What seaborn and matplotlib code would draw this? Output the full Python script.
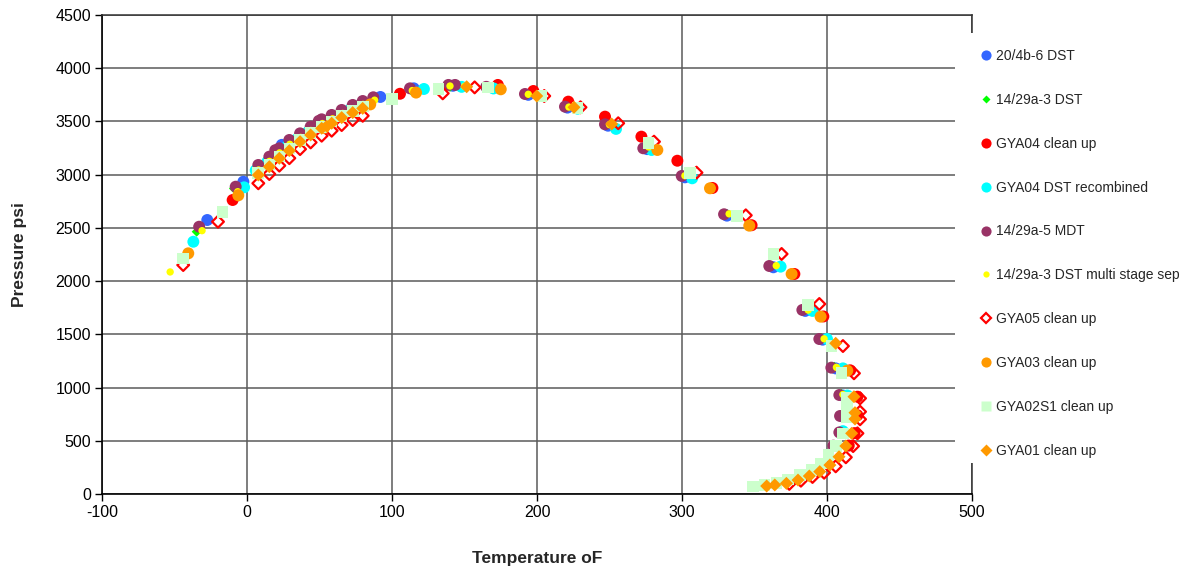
import matplotlib
matplotlib.use("Agg")
import matplotlib.pyplot as plt
from matplotlib.lines import Line2D
from matplotlib.patches import Rectangle
import seaborn as sns
import pandas as pd

# ---------------- data ----------------
labels = ["20/4b-6 DST", "14/29a-3 DST", "GYA04 clean up", "GYA04 DST recombined",
          "14/29a-5 MDT", "14/29a-3 DST multi stage sep", "GYA05 clean up",
          "GYA03 clean up", "GYA02S1 clean up", "GYA01 clean up"]

t_2004b6 = [-27.4, -2.5, 24, 92, 115, 142, 194, 221, 249, 276, 302, 331, 363, 385, 397, 406, 411, 411, 410]
p_2004b6 = [2574, 2934, 3280, 3730, 3811, 3835, 3750, 3630, 3460, 3240, 2975, 2615, 2130, 1720, 1450, 1180, 925, 730, 575]

t_1429a3 = [-34.7, -9, 6, 14, 21, 28, 35, 43, 50, 57, 64, 72, 79, 86, 113, 140, 193, 220, 248, 275, 301, 331, 362, 385, 396, 405, 410, 410, 409]
p_1429a3 = [2464, 2870, 3060, 3140, 3215, 3295, 3360, 3425, 3490, 3535, 3585, 3630, 3670, 3705, 3795, 3825, 3755, 3635, 3470, 3250, 2990, 2630, 2145, 1735, 1465, 1195, 940, 745, 590]

t_gya04cu = [-9.9, 105.5, 173, 197.5, 221.6, 246.9, 272, 296.8, 321, 348, 377.5, 397.5, 416, 421, 421, 419, 415]
p_gya04cu = [2762, 3760, 3843, 3786, 3686, 3545, 3357, 3131, 2875, 2525, 2067, 1668, 1162, 914, 740, 572, 455]

t_gya04rc = [-37, -2, 6, 14, 21, 28, 35, 42, 50, 57, 64, 71, 78, 122, 148, 170, 228, 254.5, 279, 307, 368, 390, 400, 411, 414, 413, 411]
p_gya04rc = [2370, 2881, 3040, 3120, 3195, 3270, 3340, 3400, 3470, 3515, 3560, 3610, 3650, 3805, 3825, 3810, 3620, 3430, 3232, 2966, 2136, 1720, 1456, 1180, 925, 745, 590]

t_1429a5 = [-33, -7.8, 7.8, 15.4, 19.5, 22.3, 29.2, 36.6, 43.9, 49.5, 51.5, 58.4, 65.3, 72.9, 79.8, 87.1, 112.4, 138.9, 143.5, 165, 191.7, 219.3, 246.9, 273.3, 299.8, 329, 360.2, 383, 394.7, 403, 408.5, 409, 408.5, 404.4]
p_1429a5 = [2511, 2887, 3091, 3169, 3230, 3248, 3326, 3388, 3451, 3505, 3520, 3561, 3608, 3655, 3692, 3727, 3811, 3843, 3843, 3825, 3758, 3639, 3473, 3248, 2988, 2628, 2142, 1729, 1456, 1187, 930, 733, 579, 454]

t_multi = [-53, -31, -6.4, 8, 15.5, 22.5, 29.5, 37, 44, 52, 59, 66, 73, 80, 88, 114, 140, 150, 194, 222, 250, 277, 302, 332.5, 365, 387, 398, 406.5, 411]
p_multi = [2086, 2474, 2840, 3044, 3125, 3205, 3285, 3350, 3415, 3480, 3525, 3575, 3620, 3660, 3700, 3790, 3833, 3830, 3755, 3635, 3470, 3260, 2990, 2632, 2145, 1728, 1458, 1190, 935]

t_gya05 = [-44, -20, 7.8, 15.4, 22.3, 29.2, 36.6, 43.9, 51.5, 58.4, 65.3, 72.9, 79.8, 135, 157, 205, 230, 256, 280.7, 310, 344, 368.7, 394.7, 411, 418.6, 422.8, 422.8, 422.8, 421, 418, 413, 406, 398, 390, 382, 374]
p_gya05 = [2151, 2558, 2919, 3006, 3085, 3155, 3240, 3303, 3366, 3413, 3466, 3513, 3553, 3764, 3820, 3739, 3633, 3483, 3310, 3019, 2618, 2255, 1785, 1390, 1134, 899, 773, 702, 570, 450, 345, 260, 200, 160, 125, 95]

t_gya03 = [-40.5, -6, 53, 85, 116.6, 175, 283, 319.3, 346.4, 375.6, 395.6, 414]
p_gya03 = [2261, 2806, 3440, 3660, 3771, 3802, 3232, 2872, 2521, 2067, 1666, 1159]

t_gya02 = [-44, -16.8, 7.8, 15.4, 22.3, 29.2, 36.6, 43.9, 51.5, 58.4, 65.3, 72.9, 79.8, 99.8, 132, 166.4, 203, 228, 277, 305.5, 338, 363, 387, 403, 410, 414, 414, 414, 411, 406, 401, 396, 389.4, 381.4, 373.3, 365.3, 357, 349]
p_gya02 = [2214, 2652, 3015, 3095, 3170, 3245, 3325, 3390, 3450, 3500, 3550, 3600, 3640, 3711, 3805, 3820, 3739, 3625, 3295, 3013, 2612, 2255, 1776, 1390, 1134, 899, 800, 720, 570, 451, 366, 288, 225, 178, 138, 106, 85, 69]

t_gya01 = [7.8, 15.4, 22.3, 29.2, 36.6, 43.9, 51.5, 55, 58.4, 65.3, 72.9, 79.8, 151.5, 199.8, 225.5, 251.5, 406, 418.6, 419.3, 419.3, 417, 413, 408.3, 402, 395, 387.8, 380, 372, 364, 358.4]
p_gya01 = [2997, 3075, 3154, 3226, 3310, 3373, 3436, 3455, 3483, 3536, 3583, 3623, 3826, 3739, 3633, 3476, 1416, 914, 764, 705, 570, 451, 350, 272, 210, 169, 131, 100, 85, 75]

x_ticks = [-100, 0, 100, 200, 300, 400, 500]
y_ticks = [0, 500, 1000, 1500, 2000, 2500, 3000, 3500, 4000, 4500]

temps = [t_2004b6, t_1429a3, t_gya04cu, t_gya04rc, t_1429a5, t_multi, t_gya05, t_gya03, t_gya02, t_gya01]
press = [p_2004b6, p_1429a3, p_gya04cu, p_gya04rc, p_1429a5, p_multi, p_gya05, p_gya03, p_gya02, p_gya01]

# ---------------- styles ----------------
styles = [
    dict(marker="o", color="#3366FF", s=74),
    dict(marker="D", color="#00FF00", s=26),
    dict(marker="o", color="#FF0000", s=74),
    dict(marker="o", color="#00FFFF", s=74),
    dict(marker="o", color="#993366", s=74),
    dict(marker="o", color="#FFFF00", s=28),
    dict(marker="D", color="#FF0000", s=36, open=True),
    dict(marker="o", color="#FF9900", s=74),
    dict(marker="s", color="#CCFFCC", s=70),
    dict(marker="D", color="#FF9900", s=44),
]

sns.set_theme(style="white")
plt.rcParams["font.family"] = ["Liberation Sans", "DejaVu Sans"]
plt.rcParams["axes.unicode_minus"] = False

fig = plt.figure(figsize=(11.85, 5.73), dpi=100)
ax = fig.add_axes([102 / 1185, 1 - 494 / 573, 870 / 1185, 479 / 573])

for lab, tx, py, st in zip(labels, temps, press, styles):
    df = pd.DataFrame({"T": tx, "P": py})
    if st.get("open"):
        sns.scatterplot(data=df, x="T", y="P", ax=ax, marker=st["marker"], s=st["s"],
                        facecolors="none", edgecolor=st["color"], linewidth=1.6, zorder=3)
    else:
        sns.scatterplot(data=df, x="T", y="P", ax=ax, marker=st["marker"], s=st["s"],
                        color=st["color"], edgecolor="none", linewidth=0, zorder=3)

ax.set_xlim(-100, 500)
ax.set_ylim(0, 4500)
ax.set_xticks(x_ticks)
ax.set_yticks(y_ticks)
ax.grid(True, color="#5a5a5a", linewidth=1.1)
ax.set_axisbelow(True)
for side in ["left", "bottom"]:
    ax.spines[side].set_color("black")
    ax.spines[side].set_linewidth(1.2)
for side in ["top", "right"]:
    ax.spines[side].set_color("#333333")
    ax.spines[side].set_linewidth(1.1)
ax.tick_params(axis="both", direction="out", length=5, width=1, color="black",
               labelsize=11.5, labelcolor="black", pad=3, left=True, bottom=True)
ax.set_xlabel("Temperature oF", fontsize=12.5, fontweight="bold", labelpad=22)
ax.set_ylabel("Pressure psi", fontsize=12.5, fontweight="bold", labelpad=20)

# white legend area covering the right edge of the plot
fig.patches.append(Rectangle((955 / 1185, 1 - 463 / 573), 230 / 1185, 430 / 573,
                             transform=fig.transFigure, facecolor="white",
                             edgecolor="none", zorder=1))

handles = []
for st in styles:
    ms = (st["s"] ** 0.5) * 0.85
    if st.get("open"):
        h = Line2D([], [], linestyle="none", marker=st["marker"], markersize=ms,
                   markerfacecolor="none", markeredgecolor=st["color"], markeredgewidth=1.6)
    else:
        h = Line2D([], [], linestyle="none", marker=st["marker"], markersize=ms,
                   markerfacecolor=st["color"], markeredgecolor="none")
    handles.append(h)

fig.legend(handles, labels, loc="upper left", bbox_to_anchor=(981 / 1185, 1 - 49 / 573),
           bbox_transform=fig.transFigure, frameon=False, fontsize=10,
           borderpad=0, borderaxespad=0, handlelength=0.7, handletextpad=0.35,
           labelspacing=2.15)

fig.savefig("out.png", dpi=100)
